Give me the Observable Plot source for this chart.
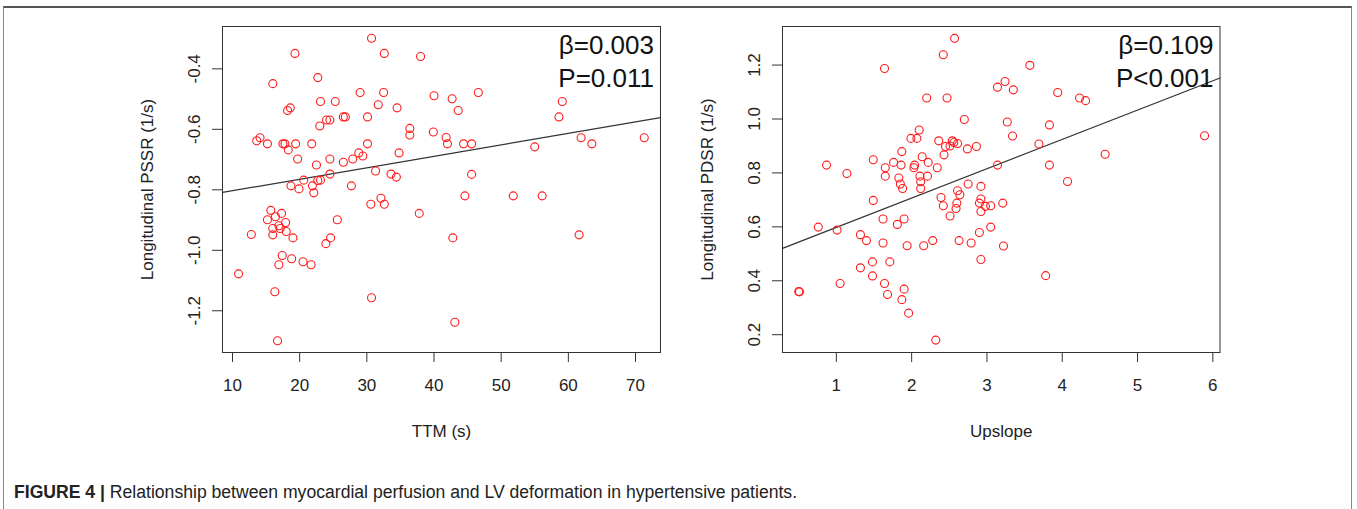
<!DOCTYPE html>
<html><head><meta charset="utf-8">
<script src="https://cdn.jsdelivr.net/npm/d3@7"></script>
<script src="https://cdn.jsdelivr.net/npm/@observablehq/plot@0.6"></script>
<style>
body{margin:0;background:#fff;}
#fig{position:relative;width:1357px;height:509px;overflow:hidden;background:#fff;font-family:"Liberation Sans",Arial,sans-serif;}
#border{position:absolute;left:3px;top:6px;width:1347px;height:540px;border:1px solid #888;border-top:2px solid #555;}
.panel{position:absolute;top:0;}
#left{left:0px;}
#right{left:620px;}
#caption{position:absolute;left:14px;top:481px;font-size:17.6px;line-height:22px;color:#222;white-space:nowrap;}
#caption b{font-weight:bold;}
</style></head>
<body>
<div id="fig">
  <div id="border"></div>
  <div id="left" class="panel"></div>
  <div id="right" class="panel"></div>
  <div id="caption"><b>FIGURE 4 |</b> Relationship between myocardial perfusion and LV deformation in hypertensive patients.</div>
</div>
<script>
// ---------- Panel A: TTM vs Longitudinal PSSR ----------
const ttm = [30.7,19.3,32.6,38.0,16.0,22.7,29.0,32.5,40.0,42.7,43.6,23.1,25.3,18.6,18.2,31.7,34.5,26.5,26.8,30.1,
  24.0,24.5,23.0,36.4,36.4,39.9,41.8,42.0,13.6,14.1,15.2,17.5,17.8,19.4,18.3,21.8,30.1,19.7,24.5,22.5,
  26.5,27.9,28.8,29.4,34.8,31.3,33.6,34.4,24.5,20.6,22.7,23.1,18.7,21.9,27.7,19.9,22.1,46.6,59.1,58.6,
  44.4,45.6,55.0,61.9,63.5,71.3,45.6,30.6,32.1,32.6,37.8,44.6,51.8,56.1,15.7,17.3,15.2,16.4,17.9,16.9,
  16.0,17.1,16.0,18.0,19.0,12.8,25.6,24.6,23.9,42.8,17.4,16.9,18.8,20.5,21.7,10.9,16.3,30.7,43.1,16.7,61.6];
const pssr = [-0.299,-0.349,-0.349,-0.359,-0.449,-0.429,-0.478,-0.478,-0.489,-0.499,-0.538,-0.508,-0.508,-0.529,-0.538,-0.519,-0.529,-0.559,-0.559,-0.559,
  -0.569,-0.569,-0.589,-0.597,-0.619,-0.609,-0.627,-0.648,-0.638,-0.628,-0.648,-0.648,-0.648,-0.648,-0.668,-0.648,-0.648,-0.698,-0.698,-0.718,
  -0.709,-0.698,-0.678,-0.688,-0.678,-0.738,-0.748,-0.758,-0.748,-0.768,-0.769,-0.768,-0.787,-0.787,-0.787,-0.797,-0.810,-0.478,-0.508,-0.559,
  -0.648,-0.648,-0.658,-0.628,-0.648,-0.628,-0.749,-0.848,-0.828,-0.848,-0.878,-0.820,-0.820,-0.820,-0.868,-0.878,-0.899,-0.889,-0.908,-0.919,
  -0.928,-0.928,-0.949,-0.938,-0.959,-0.948,-0.899,-0.959,-0.978,-0.959,-1.017,-1.048,-1.028,-1.038,-1.048,-1.078,-1.137,-1.157,-1.238,-1.299,-0.949];
const pssrFit = [-0.841, 0.00379];           // intercept, slope of drawn regression line
const ttmTicks = [10, 20, 30, 40, 50, 60, 70];
const pssrTicks = [-0.4, -0.6, -0.8, -1.0, -1.2];
const ttmDomain = [8.51, 73.72];
const pssrDomain = [-1.338, -0.260];
const statsA = ["β=0.003", "P=0.011"];

// ---------- Panel B: Upslope vs Longitudinal PDSR ----------
const upslope = [2.57,2.42,1.64,3.14,2.20,2.47,2.70,2.10,1.99,2.07,2.36,2.54,2.56,2.61,2.51,2.45,2.74,2.86,2.43,1.87,
  1.49,0.87,1.14,1.65,1.76,1.86,2.04,2.03,2.14,2.22,2.34,1.65,1.83,1.85,1.88,2.11,2.21,2.12,2.12,3.14,
  2.75,2.92,2.61,3.57,3.24,3.35,3.94,4.23,4.31,3.27,3.83,3.34,3.69,5.89,4.57,3.83,4.07,2.64,1.49,2.39,
  2.42,2.60,2.59,2.51,2.90,2.92,2.92,2.98,3.05,3.21,0.76,1.01,1.62,1.90,1.81,1.32,1.40,1.62,1.94,2.16,
  2.28,2.63,2.79,2.90,3.05,3.22,2.92,1.48,1.71,1.32,1.48,0.51,0.50,1.05,1.64,1.68,1.90,1.87,1.96,2.32,3.78];
const pdsr = [1.299,1.238,1.187,1.118,1.078,1.078,0.998,0.959,0.928,0.928,0.919,0.919,0.913,0.909,0.900,0.898,0.889,0.898,0.867,0.879,
  0.849,0.829,0.798,0.819,0.839,0.829,0.829,0.819,0.860,0.839,0.819,0.788,0.781,0.759,0.742,0.788,0.788,0.767,0.742,0.829,
  0.759,0.750,0.734,1.199,1.139,1.108,1.098,1.078,1.068,0.989,0.978,0.937,0.907,0.938,0.869,0.829,0.768,0.719,0.698,0.709,
  0.678,0.688,0.668,0.640,0.688,0.703,0.657,0.676,0.678,0.688,0.599,0.588,0.629,0.629,0.609,0.571,0.549,0.540,0.530,0.530,
  0.549,0.549,0.540,0.579,0.599,0.529,0.479,0.470,0.470,0.448,0.418,0.359,0.360,0.390,0.390,0.349,0.369,0.330,0.280,0.180,0.419];
const pdsrFit = [0.489, 0.1088];
const upslopeTicks = [1, 2, 3, 4, 5, 6];
const pdsrTicks = [0.2, 0.4, 0.6, 0.8, 1.0, 1.2];
const upslopeDomain = [0.285, 6.095];
const pdsrDomain = [0.134, 1.343];
const statsB = ["β=0.109", "P<0.001"];

const FONT = '"Liberation Sans", Arial, Helvetica, sans-serif';
const INK = "#222";

function panel({xs, ys, fit, xDomain, yDomain, xTicks, yTicks, xLabel, yLabel, stats, width, marginLeft, marginRight}) {
  const pts = xs.map((x, i) => ({x, y: ys[i]}));
  const fitLine = xDomain.map(x => ({x, y: fit[0] + fit[1] * x}));
  return Plot.plot({
    width, height: 450,
    marginLeft, marginRight, marginTop: 26, marginBottom: 98,
    x: {domain: xDomain},
    y: {domain: yDomain},
    style: {fontFamily: FONT, background: "transparent", color: INK, overflow: "visible"},
    marks: [
      Plot.frame({stroke: "#333", strokeWidth: 1}),
      Plot.axisX({ticks: xTicks, tickSize: 10, tickPadding: 16, fontSize: 17, label: null,
        tickFormat: d => String(d), stroke: "#333"}),
      Plot.axisY({ticks: yTicks, tickSize: 10, tickRotate: -90, tickPadding: 13, fontSize: 17, label: null,
        textAnchor: "middle", tickFormat: d => d.toFixed(1), stroke: "#333"}),
      Plot.line(fitLine, {x: "x", y: "y", stroke: "#333", strokeWidth: 1.2}),
      Plot.dot(pts, {x: "x", y: "y", r: 4, stroke: "#ff1a1a", strokeWidth: 1.1, fill: "none"}),
      Plot.text([stats.join("\n")], {frameAnchor: "top-right", textAnchor: "end", lineAnchor: "top",
        dx: -6.5, dy: 4.5, fontSize: 26, lineHeight: 1.27, fill: "#111"}),
      Plot.text([xLabel], {frameAnchor: "bottom", textAnchor: "middle", lineAnchor: "middle",
        dy: 79, fontSize: 17, fill: INK}),
      Plot.text([yLabel], {frameAnchor: "left", textAnchor: "middle", lineAnchor: "middle",
        rotate: -90, dx: -75, fontSize: 17, fill: INK})
    ]
  });
}

document.getElementById("left").appendChild(panel({
  xs: ttm, ys: pssr, fit: pssrFit, xDomain: ttmDomain, yDomain: pssrDomain,
  xTicks: ttmTicks, yTicks: pssrTicks, xLabel: "TTM (s)", yLabel: "Longitudinal PSSR (1/s)",
  stats: statsA, width: 680, marginLeft: 222, marginRight: 20
}));
document.getElementById("right").appendChild(panel({
  xs: upslope, ys: pdsr, fit: pdsrFit, xDomain: upslopeDomain, yDomain: pdsrDomain,
  xTicks: upslopeTicks, yTicks: pdsrTicks, xLabel: "Upslope", yLabel: "Longitudinal PDSR (1/s)",
  stats: statsB, width: 620, marginLeft: 162, marginRight: 20.5
}));
</script>
</body></html>
